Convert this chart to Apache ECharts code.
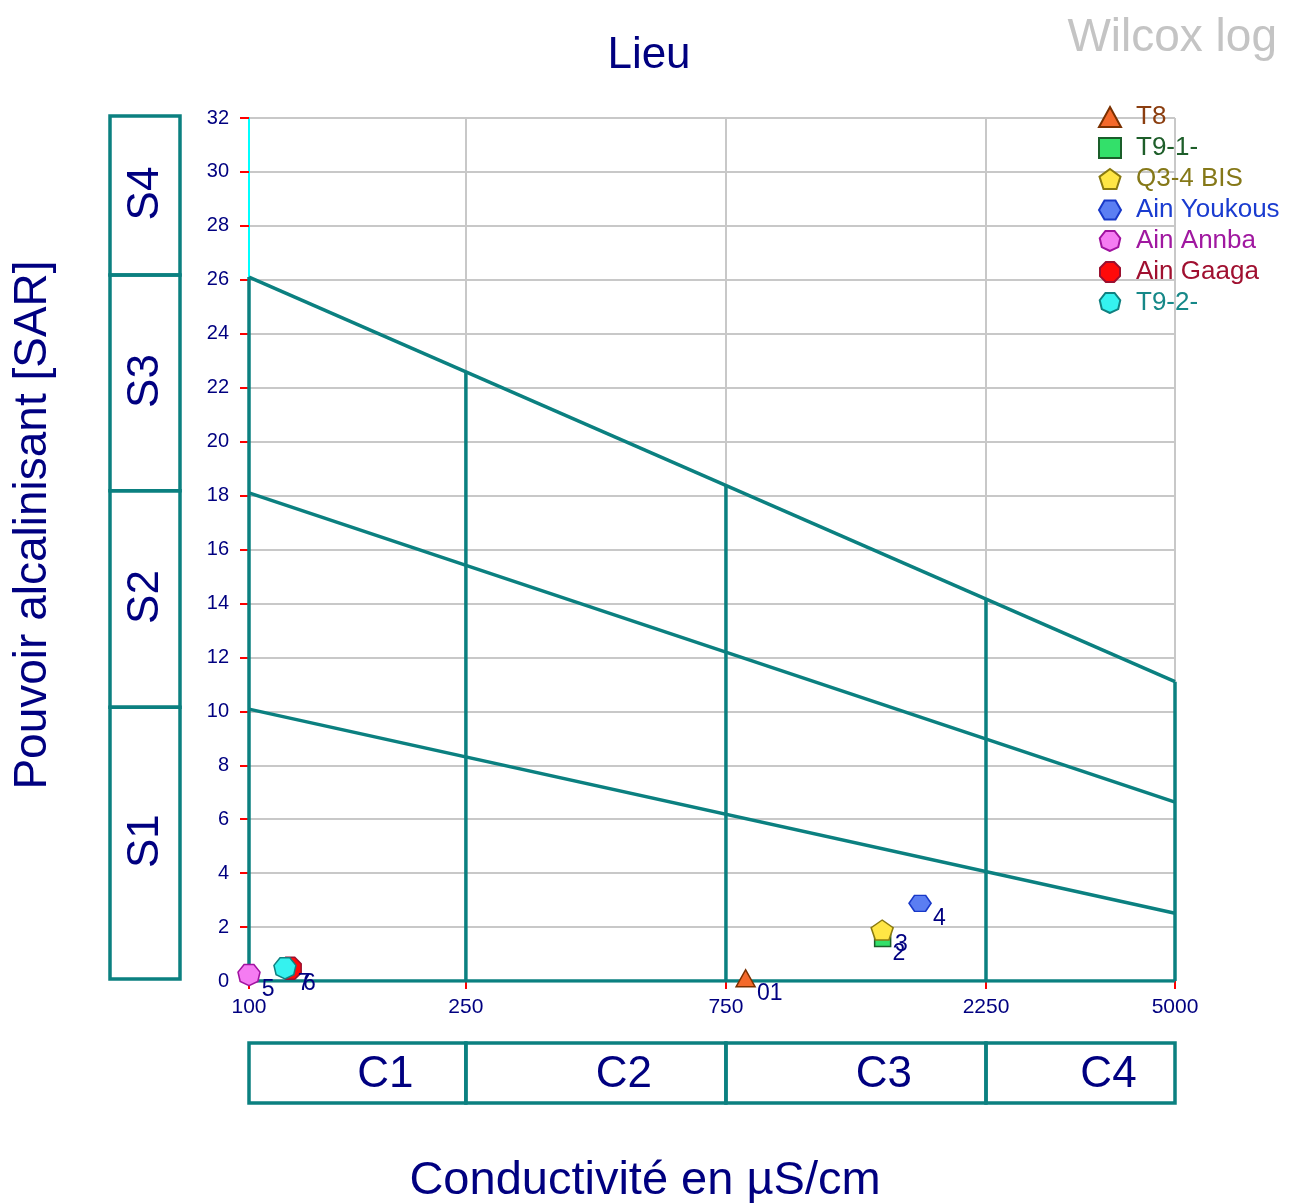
<!DOCTYPE html>
<html>
<head>
<meta charset="utf-8">
<script src="https://cdn.jsdelivr.net/npm/echarts@6/dist/echarts.min.js"></script>
<style>html,body{margin:0;padding:0;background:#fff}#c{width:1298px;height:1203px}</style>
</head>
<body>
<div id="c"></div>
<script>
// ---- data ----
const sampleNames = ['T8', 'T9-1-', 'Q3-4 BIS', 'Ain Youkous', 'Ain Annba', 'Ain Gaaga', 'T9-2-'];
const sampleCond = [815, 1454, 1451, 1703, 100, 119, 116.4];
const sampleSAR = [0.1, 1.58, 1.89, 2.88, 0.22, 0.47, 0.47];
const sampleLabels = ['01', '2', '3', '4', '5', '6', '7'];

const condTicks = [100, 250, 750, 2250, 5000];
const sarTicksMax = 32;
// SAR class boundary lines (value at 100 and at 5000 µS/cm)
const sarLineAt100 = [10.08, 18.1, 26.1];
const sarLineAt5000 = [2.51, 6.63, 11.1];
// conductivity class dividers and the SAR where they meet the top boundary line
const condDividers = [250, 750, 2250, 5000];
const condDividerTop = [22.6, 18.37, 14.16, 11.1];
const sBandEdges = [0, 10.08, 18.1, 26.1, 32];
const sBandNames = ['S1', 'S2', 'S3', 'S4'];
const cBandEdges = [100, 250, 750, 2250, 5000];
const cBandNames = ['C1', 'C2', 'C3', 'C4'];

// ---- styles ----
const FONT = 'Liberation Sans';
const NAVY = '#000080';
const TEAL = '#0b8080';
const fills = ['#f4692a', '#33e06a', '#ffe645', '#5b7ef2', '#f57cf2', '#ff0a0a', '#35f2ef'];
const borders = ['#7a3000', '#1a5e2a', '#8a7a10', '#1838c8', '#a012a0', '#9a1030', '#108080'];
const textColors = ['#8b3e10', '#1e5e2a', '#857818', '#1a3cd0', '#a018a0', '#a01030', '#168888'];

function poly(n, startDeg) {
  let d = '';
  for (let i = 0; i < n; i++) {
    const a = (startDeg + i * 360 / n) * Math.PI / 180;
    const x = (50 + 50 * Math.cos(a)).toFixed(2), y = (50 + 50 * Math.sin(a)).toFixed(2);
    d += (i === 0 ? 'M' : 'L') + x + ' ' + y + ' ';
  }
  return 'path://' + d + 'Z';
}
const symbols = ['triangle', 'rect', poly(5, -90), poly(6, 0), poly(7, 90), poly(8, 22.5), poly(7, 90)];
const symbolSizes = [[19, 17], 16, [22, 20], [22, 16], [22, 21], [22, 22], [22, 21]];

function seg(points) {
  return {
    type: 'line', data: points, showSymbol: false, silent: true, z: 3,
    lineStyle: { color: TEAL, width: 3.5 }, animation: false
  };
}

const series = [];
// boundary lines
for (let i = 0; i < sarLineAt100.length; i++) {
  series.push(seg([[condTicks[0], sarLineAt100[i]], [condTicks[condTicks.length - 1], sarLineAt5000[i]]]));
}
series.push(seg([[condTicks[0], 0], [condTicks[condTicks.length - 1], 0]]));
series.push(seg([[condTicks[0], 0], [condTicks[0], sarLineAt100[2]]]));
for (let i = 0; i < condDividers.length; i++) {
  series.push(seg([[condDividers[i], 0], [condDividers[i], condDividerTop[i]]]));
}
// S class boxes (left)
series.push({
  type: 'custom', clip: false, silent: true, z: 3, animation: false,
  encode: { x: 0, y: [1, 2] },
  data: sBandNames.map((n, i) => [100, sBandEdges[i], sBandEdges[i + 1]]),
  renderItem: function (params, api) {
    const yLo = api.coord([100, api.value(1)])[1];
    const yHi = api.coord([100, api.value(2)])[1];
    return {
      type: 'group', children: [
        { type: 'rect', shape: { x: 110, y: yHi - 2, width: 70, height: yLo - yHi },
          style: { fill: null, stroke: TEAL, lineWidth: 3.5 } },
        { type: 'text', x: 146, y: (yLo + yHi) / 2 - 4, rotation: Math.PI / 2,
          style: { text: sBandNames[params.dataIndex], fontSize: 44, fontFamily: FONT, fill: NAVY,
            align: 'center', verticalAlign: 'middle' } }
      ]
    };
  }
});
// C class boxes (bottom)
series.push({
  type: 'custom', clip: false, silent: true, z: 3, animation: false,
  encode: { x: [0, 1], y: 2 },
  data: cBandNames.map((n, i) => [cBandEdges[i], cBandEdges[i + 1], 0]),
  renderItem: function (params, api) {
    const x0 = api.coord([api.value(0), 0])[0];
    const x1 = api.coord([api.value(1), 0])[0];
    return {
      type: 'group', children: [
        { type: 'rect', shape: { x: x0, y: 1043, width: x1 - x0, height: 60 },
          style: { fill: null, stroke: TEAL, lineWidth: 3.5 } },
        { type: 'text', x: (x0 + x1) / 2 + 28, y: 1075,
          style: { text: cBandNames[params.dataIndex], fontSize: 44, fontFamily: FONT, fill: NAVY,
            align: 'center', verticalAlign: 'middle' } }
      ]
    };
  }
});
// samples
sampleNames.forEach((name, i) => {
  series.push({
    type: 'scatter', name: name, z: 10, animation: false,
    symbol: symbols[i], symbolSize: symbolSizes[i],
    itemStyle: { color: fills[i], borderColor: borders[i], borderWidth: 1.5, opacity: 1 },
    label: { show: true, formatter: sampleLabels[i], position: 'right', distance: 1, offset: [0, 15],
      color: NAVY, fontSize: 23, fontFamily: FONT },
    data: [[sampleCond[i], sampleSAR[i]]]
  });
});

const chart = echarts.init(document.getElementById('c'));
chart.setOption({
  backgroundColor: '#fff',
  animation: false,
  textStyle: { fontFamily: FONT },
  title: [
    { text: 'Lieu', left: 'center', top: 29, textStyle: { fontSize: 44, color: NAVY, fontWeight: 'normal', fontFamily: FONT } },
    { text: 'Wilcox log', right: 16, top: 10, textStyle: { fontSize: 46, color: '#c4c4c4', fontWeight: 'normal', fontFamily: FONT } }
  ],
  graphic: [
    { type: 'text', x: 645, y: 1181, silent: true,
      style: { text: 'Conductivité en µS/cm', fontSize: 47, fontFamily: FONT, fill: NAVY, align: 'center', verticalAlign: 'middle' } },
    { type: 'text', x: 33, y: 525, rotation: Math.PI / 2, silent: true,
      style: { text: 'Pouvoir alcalinisant [SAR]', fontSize: 46, fontFamily: FONT, fill: NAVY, align: 'center', verticalAlign: 'middle' } }
  ],
  legend: {
    orient: 'vertical', left: 1093, top: 99, itemWidth: 22, itemHeight: 20, itemGap: 5,
    textStyle: { fontSize: 26, fontFamily: FONT, padding: [0, 0, 0, 10] },
    data: sampleNames.map((n, i) => ({ name: n, textStyle: { color: textColors[i] } }))
  },
  grid: { left: 249, right: 123, top: 118, bottom: 222, outerBoundsMode: 'none' },
  xAxis: {
    type: 'log', logBase: 10, min: 100, max: 5000,
    axisLine: { show: false },
    axisTick: { show: true, length: 8, lineStyle: { color: '#ff0000', width: 2 }, customValues: condTicks },
    axisLabel: { fontSize: 21, color: NAVY, margin: 16, customValues: condTicks, fontFamily: FONT,
      formatter: function (v) { return String(Math.round(v)); } },
    splitLine: { show: true, lineStyle: { color: '#c8c8c8', width: 2 } }
  },
  yAxis: {
    type: 'value', min: 0, max: sarTicksMax, interval: 2,
    axisLine: { show: true, lineStyle: { color: '#00ffff', width: 2 } },
    axisTick: { show: true, length: 9, lineStyle: { color: '#ff0000', width: 2 } },
    axisLabel: { fontSize: 20, color: NAVY, margin: 20, fontFamily: FONT },
    splitLine: { show: true, lineStyle: { color: '#c8c8c8', width: 2 } }
  },
  series: series
});
</script>
</body>
</html>
